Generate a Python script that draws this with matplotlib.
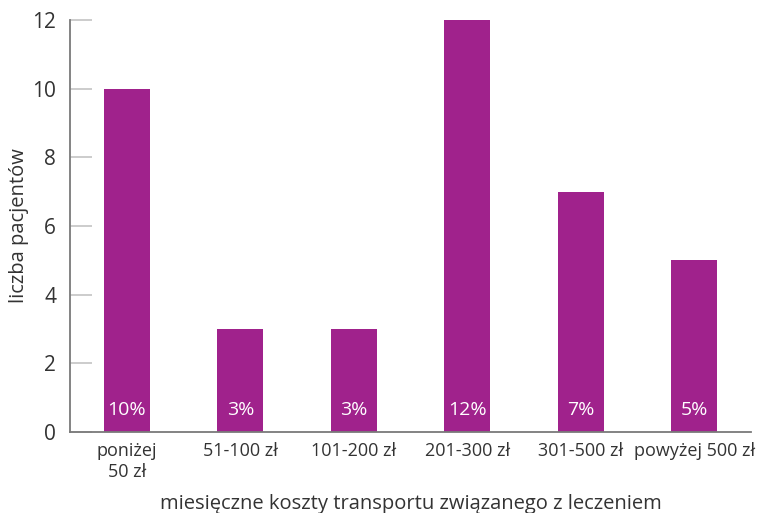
import matplotlib
matplotlib.use("Agg")
import matplotlib.pyplot as plt
import numpy as np

categories = ["poniżej\n50 zł", "51-100 zł", "101-200 zł", "201-300 zł", "301-500 zł", "powyżej 500 zł"]
counts = [10, 3, 3, 12, 7, 5]
pct_labels = ["10%", "3%", "3%", "12%", "7%", "5%"]
yticks = [0, 2, 4, 6, 8, 10, 12]

plt.rcParams["font.family"] = ["Open Sans", "DejaVu Sans"]
BAR = "#a0228c"
TXT = "#333333"

fig = plt.figure(figsize=(7.61, 5.13), dpi=100)
ax = fig.add_axes([0.092, 0.158, 0.895, 0.803])
x = np.arange(len(categories))
ax.bar(x, counts, width=0.405, color=BAR, zorder=2)
for xi, lab in zip(x, pct_labels):
    ax.text(xi, 0.65, lab, ha="center", va="center", color="white", fontsize=14, zorder=3)

ax.set_xlim(-0.5, 5.5)
ax.set_ylim(0, 12)
ax.set_yticks(yticks)
ax.set_xticks(x)
ax.set_xticklabels(categories, fontsize=13, color=TXT, linespacing=1.25)
ax.tick_params(axis="y", direction="in", length=16, width=1.2, color="#c4c4c4",
               labelsize=15, labelcolor=TXT, pad=10)
ax.tick_params(axis="x", length=0, pad=7)
for s in ("top", "right"):
    ax.spines[s].set_visible(False)
for s in ("left", "bottom"):
    ax.spines[s].set_color("#7a7a7a")
    ax.spines[s].set_linewidth(1.3)
ax.set_xlabel("miesięczne koszty transportu związanego z leczeniem", fontsize=14.5, color=TXT, labelpad=9)
ax.set_ylabel("liczba pacjentów", fontsize=14.5, color=TXT, labelpad=2)

fig.savefig("out.png", dpi=100)
